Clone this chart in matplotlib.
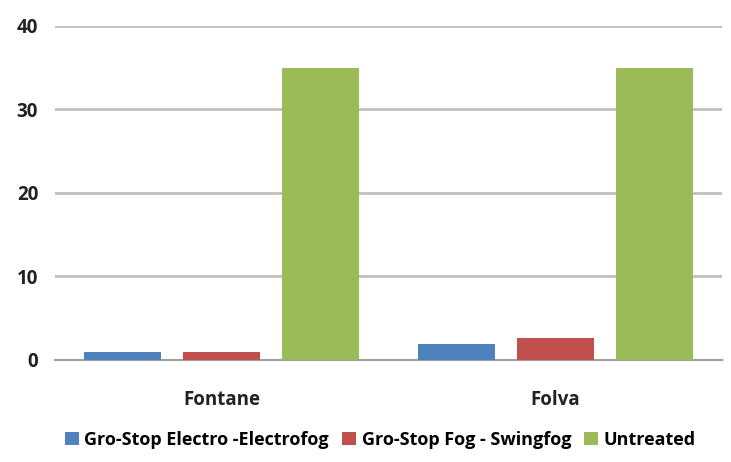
import matplotlib.pyplot as plt
import numpy as np

plt.rcParams['font.family'] = ['Open Sans', 'DejaVu Sans']

categories = ['Fontane', 'Folva']
series_names = ['Gro-Stop Electro -Electrofog', 'Gro-Stop Fog - Swingfog', 'Untreated']
electrofog = [1.0, 1.9]
swingfog = [1.0, 2.6]
untreated = [35.0, 35.0]
colors = ['#4F81BD', '#C0504D', '#9BBB59']

fig = plt.figure(figsize=(7.31, 4.62), dpi=100)
ax = fig.add_axes([0.075, 0.221, 0.913, 0.723])

x = np.arange(len(categories))
width = 0.23
step = 0.297
for i, (vals, name) in enumerate(zip([electrofog, swingfog, untreated], series_names)):
    ax.bar(x + (i - 1) * step, vals, width, color=colors[i], label=name, zorder=3)

ax.set_xlim(-0.5, 1.5)
ax.set_ylim(0, 40)
ax.set_yticks([0, 10, 20, 30, 40])
ax.yaxis.grid(True, color='#BFBFBF', linewidth=2)
ax.set_axisbelow(True)
for s in ['top', 'right', 'left']:
    ax.spines[s].set_visible(False)
ax.spines['bottom'].set_color('#A0A0A0')
ax.spines['bottom'].set_linewidth(1.5)
ax.tick_params(axis='both', length=0, labelsize=13.5, colors='#222222')
ax.tick_params(axis='x', pad=22)
ax.tick_params(axis='y', pad=12)
ax.set_xticks(x)
ax.set_xticklabels(categories, fontweight='bold')
for lab in ax.get_yticklabels():
    lab.set_fontweight('bold')

fig.legend(loc='center', bbox_to_anchor=(0.52, 0.048), ncol=3, frameon=False,
           handlelength=0.8, handleheight=0.8, handletextpad=0.3,
           columnspacing=0.7, prop={'weight': 'bold', 'size': 13})

fig.savefig('out.png', dpi=100)
